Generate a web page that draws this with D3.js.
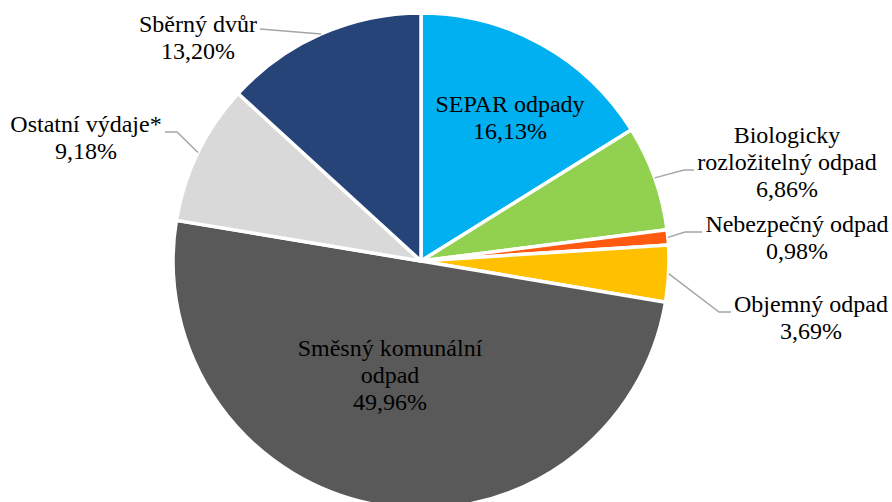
<!DOCTYPE html>
<html><head><meta charset="utf-8"></head><body style="margin:0">
<script src="https://d3js.org/d3.v7.min.js"></script>
<script>

// data (share of costs, %)
var categories = ["SEPAR odpady", "Biologicky rozložitelný odpad", "Nebezpečný odpad",
                  "Objemný odpad", "Směsný komunální odpad", "Ostatní výdaje*", "Sběrný dvůr"];
var values = [16.13, 6.86, 0.98, 3.69, 49.96, 9.18, 13.20];
var valueLabels = ["16,13%", "6,86%", "0,98%", "3,69%", "49,96%", "9,18%", "13,20%"];
var labelLines = [["SEPAR odpady"], ["Biologicky", "rozložitelný odpad"], ["Nebezpečný odpad"],
                  ["Objemný odpad"], ["Směsný komunální", "odpad"], ["Ostatní výdaje*"], ["Sběrný dvůr"]];
var colors = ["#00B0F0", "#92D050", "#FF5A0F", "#FFC000", "#595959", "#D9D9D9", "#264478"];

var width = 892,
    height = 502,
    cx = 421,
    cy = 261,
    radius = 248,
    lineGap = 26.8,
    leaderColor = "#A6A6A6";

// label placement: text centre x, first baseline y, elbow of the leader (null = inside label)
var labelPos = [
    {x: 510, y: 112, elbow: null},
    {x: 787, y: 143, elbow: [684, 170], end: 694},
    {x: 797, y: 232, elbow: [685, 232], end: 702},
    {x: 811, y: 312, elbow: [719, 312], end: 731},
    {x: 390, y: 356, elbow: null},
    {x: 86,  y: 132, elbow: [177, 132], end: 165},
    {x: 198, y: 32,  elbow: null, leader: [260, 29]}
];

var svg = d3.select("body").append("svg")
    .attr("width", width)
    .attr("height", height);

var g = svg.append("g").attr("transform", "translate(" + cx + "," + cy + ")");

var pie = d3.pie().sort(null).value(function (d) { return d; });
var arcs = pie(values);

var arc = d3.arc().innerRadius(0).outerRadius(radius);
var edgeArc = d3.arc().innerRadius(radius).outerRadius(radius);

g.selectAll("path.slice")
    .data(arcs)
    .enter().append("path")
    .attr("class", "slice")
    .attr("d", arc)
    .attr("fill", function (d, i) { return colors[i]; })
    .attr("stroke", "#fff")
    .attr("stroke-width", 3.5)
    .attr("stroke-linejoin", "round");

// leader lines
arcs.forEach(function (d, i) {
    var p = labelPos[i];
    var edge = edgeArc.centroid(d);
    var pts = null;
    if (p.elbow) {
        pts = [[edge[0] + cx, edge[1] + cy], p.elbow, [p.end, p.elbow[1]]];
    } else if (p.leader) {
        pts = [[edge[0] + cx, edge[1] + cy], p.leader];
    }
    if (pts) {
        svg.append("path")
            .attr("d", d3.line()(pts))
            .attr("fill", "none")
            .attr("stroke", leaderColor)
            .attr("stroke-width", 1.5);
    }
});

// labels, one text element per line, centred by measuring
arcs.forEach(function (d, i) {
    var p = labelPos[i];
    var lines = labelLines[i].concat([valueLabels[i]]);
    lines.forEach(function (s, k) {
        var t = svg.append("text")
            .attr("x", p.x)
            .attr("y", p.y + k * lineGap)
            .style("font-family", "'Liberation Serif'")
            .style("font-size", "24px")
            .text(s);
        var w = t.node().getComputedTextLength();
        t.attr("x", p.x - w / 2);
    });
});

</script></body></html>
